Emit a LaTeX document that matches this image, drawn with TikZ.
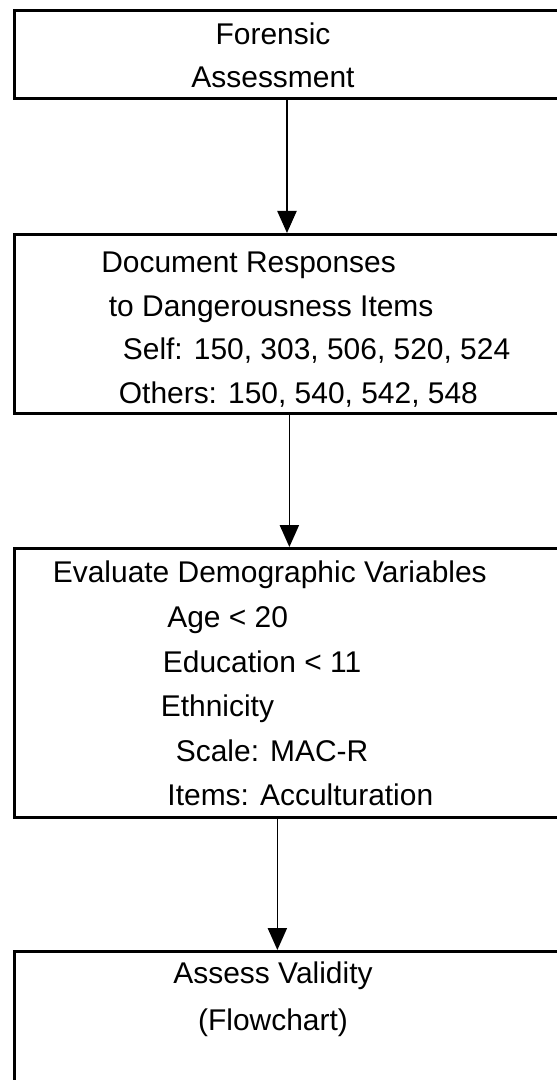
\documentclass[tikz,border=0pt]{standalone}
\usepackage{fontspec}
\setmainfont{Liberation Sans}
\usetikzlibrary{arrows.meta}

\begin{document}
\begin{tikzpicture}[
        stage/.style={rectangle, draw, line width=2.1pt, anchor=north west, inner sep=0pt, minimum width=13.625cm},
        arrow/.style={-{Triangle[length=0.55cm, width=0.48cm]}, line width=1.1pt},
        txt/.style={inner sep=0pt, font=\fontsize{21.3}{31}\selectfont}
    ]

        \useasboundingbox (0,0) rectangle (13.9,-27);

        % Box 1 - starting point
        \node[stage, minimum height=2.2cm] (box1) at (0.325,-0.225) {};
        \node[txt, anchor=north, align=center, font=\fontsize{21.3}{29.9}\selectfont] (txt1) at (6.825,-0.575) {Forensic\\Assessment};

        % Box 2 - dangerousness items
        \node[stage, minimum height=4.475cm] (box2) at (0.325,-5.825) {};
        \node[txt, anchor=north west, align=left, font=\fontsize{21.3}{31.1}\selectfont] (txt2) at (2.525,-6.29) {Document Responses\\
            \hspace*{0.19cm}to Dangerousness Items\\
            \hspace*{0.54cm}Self: 150, 303, 506, 520, 524\\
            \hspace*{0.44cm}Others: 150, 540, 542, 548};

        % Box 3 - demographic variables
        \node[stage, minimum height=6.725cm] (box3) at (0.325,-13.675) {};
        \node[txt, anchor=north west, align=left, font=\fontsize{21.3}{31.7}\selectfont] (txt3) at (1.315,-14.025) {Evaluate Demographic Variables\\
            \hspace*{2.86cm}Age < 20\\
            \hspace*{2.75cm}Education < 11\\
            \hspace*{2.70cm}Ethnicity\\
            \hspace*{3.075cm}Scale: MAC-R\\
            \hspace*{2.865cm}Items: Acculturation};

        % Box 4 - validity (runs off the page)
        \node[stage, minimum height=3.75cm] (box4) at (0.325,-23.75) {};
        \node[txt, anchor=north, align=center, font=\fontsize{21.3}{33.4}\selectfont] (txt4) at (6.825,-24.05) {Assess Validity\\(Flowchart)};

        % Arrows between the boxes
        \draw[arrow] (box1.south) -- (box2.north);
        \draw[arrow] ([xshift=0.06cm]box2.south) -- ([xshift=0.06cm]box3.north);
        \draw[arrow] ([xshift=-0.24cm]box3.south) -- ([xshift=-0.24cm]box4.north);

    \end{tikzpicture}
\end{document}
